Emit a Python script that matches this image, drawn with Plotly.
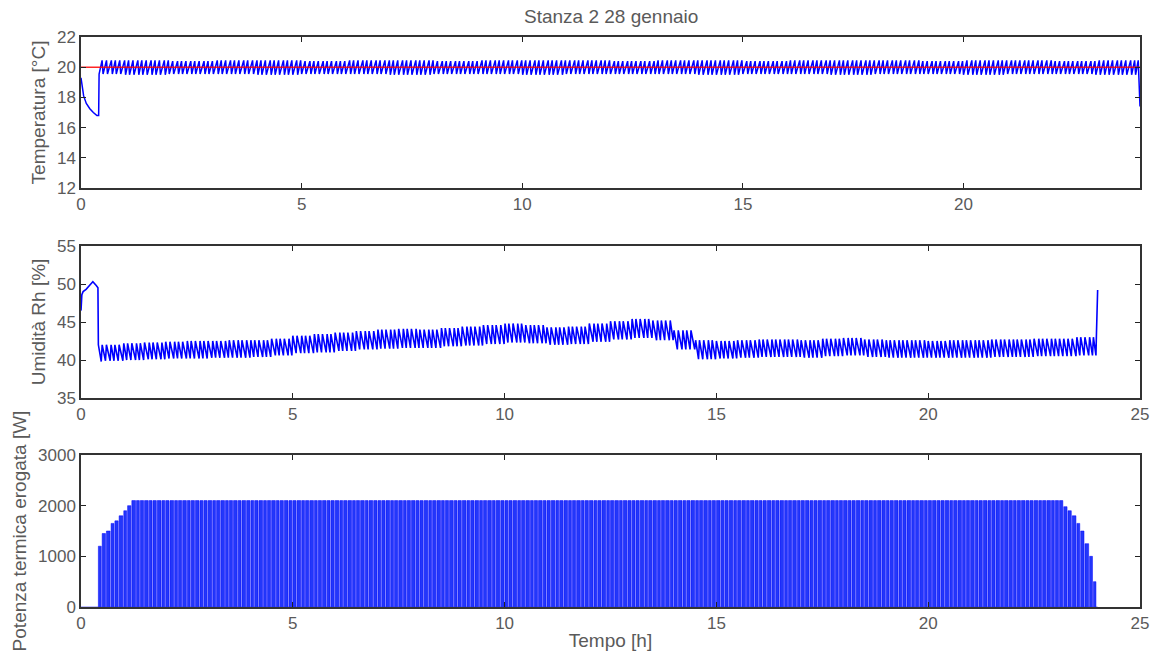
import plotly.graph_objects as go
from plotly.subplots import make_subplots

# ---------------- data ----------------
# heater switch-on instants (start of each control cycle), hours
heater_on_h = [
    0.41, 0.50, 0.60, 0.71, 0.80, 0.90,
    1.01, 1.10, 1.20, 1.31, 1.40, 1.50, 1.61, 1.70, 1.80, 1.91,
    2.00, 2.10, 2.21, 2.30, 2.40, 2.51, 2.60, 2.70, 2.81, 2.90,
    3.00, 3.11, 3.20, 3.30, 3.41, 3.50, 3.60, 3.71, 3.80, 3.91,
    4.01, 4.10, 4.20, 4.31, 4.40, 4.50, 4.61, 4.70, 4.80, 4.91,
    5.00, 5.10, 5.21, 5.30, 5.40, 5.51, 5.60, 5.70, 5.81, 5.90,
    6.00, 6.11, 6.20, 6.30, 6.41, 6.50, 6.60, 6.71, 6.80, 6.91,
    7.01, 7.10, 7.20, 7.31, 7.40, 7.50, 7.61, 7.70, 7.80, 7.91,
    8.00, 8.10, 8.21, 8.30, 8.40, 8.51, 8.60, 8.70, 8.81, 8.90,
    9.00, 9.11, 9.20, 9.30, 9.41, 9.50, 9.60, 9.71, 9.80, 9.91,
    10.01, 10.10, 10.20, 10.31, 10.40, 10.50, 10.61, 10.70, 10.80, 10.91,
    11.00, 11.10, 11.21, 11.30, 11.40, 11.51, 11.60, 11.70, 11.81, 11.90,
    12.00, 12.11, 12.20, 12.30, 12.41, 12.50, 12.60, 12.71, 12.80, 12.91,
    13.01, 13.10, 13.20, 13.31, 13.40, 13.50, 13.61, 13.70, 13.80, 13.91,
    14.00, 14.10, 14.21, 14.30, 14.40, 14.51, 14.60, 14.70, 14.81, 14.90,
    15.00, 15.11, 15.20, 15.30, 15.41, 15.50, 15.60, 15.71, 15.80, 15.91,
    16.01, 16.10, 16.20, 16.31, 16.40, 16.50, 16.61, 16.70, 16.80, 16.91,
    17.00, 17.10, 17.21, 17.30, 17.40, 17.51, 17.60, 17.70, 17.81, 17.90,
    18.00, 18.11, 18.20, 18.30, 18.41, 18.50, 18.60, 18.71, 18.80, 18.91,
    19.01, 19.10, 19.20, 19.31, 19.40, 19.50, 19.61, 19.70, 19.80, 19.91,
    20.00, 20.10, 20.21, 20.30, 20.40, 20.51, 20.60, 20.70, 20.81, 20.90,
    21.00, 21.11, 21.20, 21.30, 21.41, 21.50, 21.60, 21.71, 21.80, 21.91,
    22.01, 22.10, 22.20, 22.31, 22.40, 22.50, 22.61, 22.70, 22.80, 22.91,
    23.00, 23.10, 23.20, 23.30, 23.40, 23.51, 23.60, 23.70, 23.81, 23.90,
]
heater_last_off_h = 23.96
heater_off_gap_h = 0.022

# Temperature [°C]
setpoint_t = [0.0, 24.0]
setpoint_v = [20.0, 20.0]
temp_start_t = [0.0, 0.02, 0.06, 0.12, 0.20, 0.28, 0.36, 0.40]
temp_start_v = [19.3, 18.8, 18.1, 17.6, 17.25, 17.0, 16.8, 16.8]
temp_hi_by_hour = [20.45, 20.45, 20.4, 20.45, 20.45, 20.4, 20.45, 20.45, 20.4, 20.45, 20.45, 20.45,
                   20.4, 20.45, 20.45, 20.4, 20.45, 20.45, 20.45, 20.4, 20.45, 20.45, 20.4, 20.45]
temp_lo_by_hour = [19.55, 19.5, 19.55, 19.55, 19.5, 19.55, 19.55, 19.5, 19.55, 19.55, 19.5, 19.55,
                   19.55, 19.55, 19.5, 19.55, 19.55, 19.5, 19.55, 19.55, 19.5, 19.55, 19.55, 19.5]
temp_end_t = [24.0]
temp_end_v = [17.4]

# Relative humidity [%] (half-hour envelopes)
rh_start_t = [0.0, 0.02, 0.05, 0.12, 0.20, 0.28, 0.36, 0.40]
rh_start_v = [46.5, 48.6, 49.0, 49.3, 49.8, 50.3, 49.8, 49.5]
rh_hi_by_half_hour = [42.0, 42.0, 42.2, 42.3, 42.4, 42.5, 42.5, 42.6, 42.6, 42.8, 43.2, 43.4,
                      43.6, 43.8, 44.0, 44.1, 44.0, 44.2, 44.4, 44.6, 44.8, 44.6, 44.3, 44.4,
                      44.8, 45.1, 45.4, 45.2, 43.9, 42.6, 42.5, 42.6, 42.7, 42.7, 42.6, 42.8,
                      42.9, 42.7, 42.6, 42.6, 42.5, 42.6, 42.6, 42.7, 42.7, 42.8, 42.8, 43.0]
rh_lo_by_half_hour = [39.8, 39.9, 40.0, 40.1, 40.2, 40.2, 40.3, 40.3, 40.4, 40.6, 40.9, 41.0,
                      41.2, 41.4, 41.5, 41.6, 41.6, 41.8, 41.9, 42.1, 42.3, 42.2, 42.0, 42.1,
                      42.4, 42.7, 42.9, 42.6, 41.4, 40.1, 40.2, 40.3, 40.4, 40.4, 40.3, 40.5,
                      40.6, 40.4, 40.3, 40.3, 40.3, 40.3, 40.3, 40.4, 40.4, 40.5, 40.5, 40.6]
rh_end_t = [23.97, 24.0]
rh_end_v = [43.0, 49.2]

# Thermal power [W]
power_full_w = 2100
power_ramp_up_w = [1200, 1450, 1500, 1650, 1700, 1800, 1900, 2000]
power_ramp_down_w = [1980, 1900, 1800, 1650, 1500, 1250, 1000, 500]

# Axis ticks / labels
title_text = "Stanza 2 28 gennaio"
temp_ticks = [12, 14, 16, 18, 20, 22]
rh_ticks = [35, 40, 45, 50, 55]
power_ticks = [0, 1000, 2000, 3000]
x_ticks_top = [0, 5, 10, 15, 20]
x_ticks = [0, 5, 10, 15, 20, 25]

# ---------------- build series ----------------
def envelope(vals, t, step):
    i = min(max(int(t / step), 0), len(vals) - 1)
    return vals[i]

ons = heater_on_h
offs = [ons[k + 1] - heater_off_gap_h for k in range(len(ons) - 1)] + [heater_last_off_h]

tx, ty = list(temp_start_t), list(temp_start_v)
hx, hy = list(rh_start_t), list(rh_start_v)
for a, b in zip(ons, offs):
    tx += [a, b]
    ty += [envelope(temp_lo_by_hour, a, 1.0), envelope(temp_hi_by_hour, b, 1.0)]
    hx += [a, b]
    hy += [envelope(rh_hi_by_half_hour, a, 0.5), envelope(rh_lo_by_half_hour, b, 0.5)]
tx += temp_end_t
ty += temp_end_v
hx += rh_end_t
hy += rh_end_v

n_full = len(ons) - len(power_ramp_up_w) - len(power_ramp_down_w)
levels = power_ramp_up_w + [power_full_w] * n_full + power_ramp_down_w
px, py = [0.0], [0.0]
for a, b, p in zip(ons, offs, levels):
    px += [a, a, b, b]
    py += [0, p, p, 0]
px += [24.0]
py += [0]

# ---------------- figure ----------------
BLUE = "rgb(0,0,255)"
RED = "rgb(255,0,0)"
FONT = "Liberation Sans, Arial, Helvetica, sans-serif"
TXT = "#5a5a5a"
TICK_SIZE = 17
LABEL_SIZE = 19

fig = make_subplots(rows=3, cols=1)
fig.add_trace(go.Scatter(x=tx, y=ty, mode="lines", line=dict(color=BLUE, width=1.5),
                         showlegend=False), row=1, col=1)
fig.add_trace(go.Scatter(x=setpoint_t, y=setpoint_v, mode="lines",
                         line=dict(color=RED, width=1.5), opacity=0.85, showlegend=False),
              row=1, col=1)
fig.add_trace(go.Scatter(x=hx, y=hy, mode="lines", line=dict(color=BLUE, width=1.6),
                         showlegend=False), row=2, col=1)
fig.add_trace(go.Scatter(x=px, y=py, mode="lines", fill="tozeroy",
                         fillcolor="rgb(35,55,250)", line=dict(color=BLUE, width=0.5),
                         showlegend=False), row=3, col=1)

H = 656.0
def dom(top_px, bot_px):
    return [1 - bot_px / H, 1 - top_px / H]

axis_common = dict(showline=True, linecolor="#333333", linewidth=1.5, mirror="ticks",
                   ticks="inside", ticklen=5, tickwidth=1.2, tickcolor="#222222",
                   showgrid=False, zeroline=False, automargin=False,
                   tickfont=dict(family=FONT, size=TICK_SIZE, color=TXT))

def ttl(text, standoff):
    return dict(text=text, font=dict(family=FONT, size=LABEL_SIZE, color=TXT), standoff=standoff)

fig.update_layout(
    width=1155, height=656,
    margin=dict(l=81, r=15, t=0, b=0, autoexpand=False),
    paper_bgcolor="white", plot_bgcolor="white",
    font=dict(family=FONT, color=TXT),
    xaxis=dict(domain=[0, 1], range=[0, 24], tickvals=x_ticks_top, **axis_common),
    xaxis2=dict(domain=[0, 1], range=[0, 25], tickvals=x_ticks, **axis_common),
    xaxis3=dict(domain=[0, 1], range=[0, 25], tickvals=x_ticks,
                title=ttl("Tempo [h]", 2), **axis_common),
    yaxis=dict(domain=dom(37, 188), range=[12, 22], tickvals=temp_ticks,
               title=ttl("Temperatura [°C]", 6), **axis_common),
    yaxis2=dict(domain=dom(246, 398), range=[35, 55], tickvals=rh_ticks,
                title=ttl("Umidità Rh [%]", 6), **axis_common),
    yaxis3=dict(domain=dom(455, 607), range=[0, 3000], tickvals=power_ticks,
                title=ttl("Potenza termica erogata [W]", 6), **axis_common),
    annotations=[dict(text=title_text, xref="paper", yref="paper", x=0.5, y=1 - 16.5 / H,
                      showarrow=False, font=dict(family=FONT, size=LABEL_SIZE, color=TXT),
                      xanchor="center", yanchor="middle")],
)

fig.write_html(
    "out.html",
    config={"displayModeBar": False},
    post_script="document.body.style.margin='0';document.body.style.overflow='hidden';",
)
